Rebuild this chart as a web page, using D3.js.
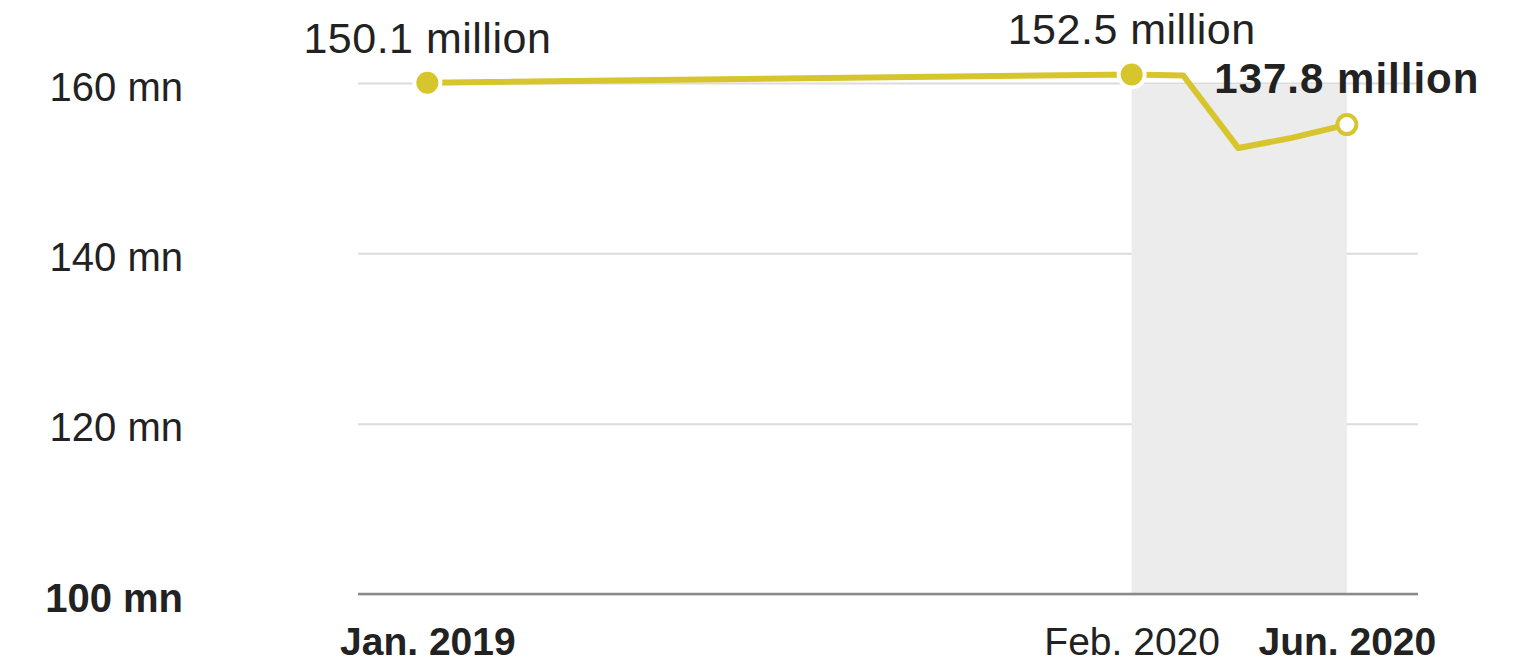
<!DOCTYPE html>
<html>
<head>
<meta charset="utf-8">
<script src="https://cdn.jsdelivr.net/npm/d3@7"></script>
<style>
  html, body { margin: 0; padding: 0; background: #fff; }
  svg { display: block; font-family: "Liberation Sans", Arial, sans-serif; }
</style>
</head>
<body>
<svg id="chart" width="1518" height="665"></svg>
<script>
// Monthly employment, millions of jobs
const months = ["2019-01", "2020-02", "2020-03", "2020-04", "2020-05", "2020-06"];
const jobs = [150.1, 152.5, 152.2, 130.9, 133.9, 137.8];

// Months that carry a value label / a filled or hollow marker
const labelMonths = ["2019-01", "2020-02", "2020-06"];
const dotMonths = ["2019-01", "2020-02"];
const latestMonth = "2020-06";

// Pandemic period shading
const shadeStart = "2020-02";
const shadeEnd = "2020-06";

// Axis ticks
const yTickValues = [0, 50, 100, 150];
const yTickLabels = ["100 mn", "120 mn", "140 mn", "160 mn"];
const xTickMonths = ["2019-01", "2020-02", "2020-06"];
const xTickLabels = ["Jan. 2019", "Feb. 2020", "Jun. 2020"];
const xDomain = ["2018-11-23", "2020-07-11"];

const parseMonth = d3.timeParse("%Y-%m");
const parseDay = d3.timeParse("%Y-%m-%d");
const fmt = d3.format(".1f");

const data = months.map((m, i) => ({ date: parseMonth(m), value: jobs[i], key: m }));
const byKey = new Map(data.map(d => [d.key, d]));

const plot = { left: 358, right: 1418, top: 83, bottom: 594 };
const x = d3.scaleTime().domain(xDomain.map(parseDay)).range([plot.left, plot.right]);
const y = d3.scaleLinear().domain([0, 150]).range([plot.bottom, plot.top]);

const svg = d3.select("#chart");
const yellow = "#d7c52e";
const ink = "#222";

// Gridlines + y labels
const yAxis = svg.append("g")
  .attr("transform", `translate(${plot.left},0)`)
  .call(d3.axisLeft(y)
    .tickValues(yTickValues)
    .tickSizeInner(-(plot.right - plot.left))
    .tickSizeOuter(0)
    .tickPadding(175)
    .tickFormat((d, i) => yTickLabels[i]));
yAxis.select(".domain").remove();
yAxis.selectAll(".tick line")
  .attr("stroke", "#dcdcdc")
  .attr("stroke-width", 2);
yAxis.selectAll(".tick text")
  .attr("fill", ink)
  .attr("font-size", 40)
  .attr("font-weight", (d, i) => i === 0 ? "bold" : "normal")
  .attr("dy", "0.43em");

// Shaded period
svg.append("rect")
  .attr("x", x(parseMonth(shadeStart)))
  .attr("width", x(parseMonth(shadeEnd)) - x(parseMonth(shadeStart)))
  .attr("y", y(150) + 2)
  .attr("height", y(0) - y(150) - 2)
  .attr("fill", "#ececec");

// Baseline
svg.append("line")
  .attr("x1", plot.left).attr("x2", plot.right)
  .attr("y1", y(0)).attr("y2", y(0))
  .attr("stroke", "#8a8a8a")
  .attr("stroke-width", 2.5);

// X labels
const xAxis = svg.append("g")
  .attr("transform", `translate(0,${y(0)})`)
  .call(d3.axisBottom(x)
    .tickValues(xTickMonths.map(parseMonth))
    .tickSize(0)
    .tickFormat((d, i) => xTickLabels[i]));
xAxis.select(".domain").remove();
xAxis.selectAll(".tick text")
  .attr("fill", ink)
  .attr("font-size", 39)
  .attr("font-weight", (d, i) => i === 1 ? "normal" : "bold")
  .attr("y", 61)
  .attr("dy", 0);

// Line
const line = d3.line().x(d => x(d.date)).y(d => y(d.value));
svg.append("path")
  .datum(data)
  .attr("d", line)
  .attr("fill", "none")
  .attr("stroke", yellow)
  .attr("stroke-width", 6)
  .attr("stroke-linejoin", "round");

// Filled markers with white halo
const dots = dotMonths.map(m => byKey.get(m));
svg.selectAll("circle.halo")
  .data(dots).join("circle")
  .attr("class", "halo")
  .attr("cx", d => x(d.date)).attr("cy", d => y(d.value))
  .attr("r", 15).attr("fill", "#fff");
svg.selectAll("circle.dot")
  .data(dots).join("circle")
  .attr("class", "dot")
  .attr("cx", d => x(d.date)).attr("cy", d => y(d.value))
  .attr("r", 11).attr("fill", yellow);

// Latest value: hollow marker
const latest = byKey.get(latestMonth);
svg.append("circle")
  .attr("cx", x(latest.date)).attr("cy", y(latest.value))
  .attr("r", 9.5)
  .attr("fill", "#fff")
  .attr("stroke", yellow)
  .attr("stroke-width", 4);

// Value labels
svg.selectAll("text.value")
  .data(labelMonths.map(m => byKey.get(m))).join("text")
  .attr("class", "value")
  .attr("x", d => x(d.date))
  .attr("y", d => y(d.value) - (d.key === latestMonth ? 32 : 30))
  .attr("text-anchor", "middle")
  .attr("fill", ink)
  .attr("font-size", d => d.key === latestMonth ? 42 : 43)
  .attr("font-weight", d => d.key === latestMonth ? "bold" : "normal")
  .attr("letter-spacing", d => d.key === latestMonth ? 1 : 0.5)
  .text(d => `${fmt(d.value)} million`);
</script>
</body>
</html>
